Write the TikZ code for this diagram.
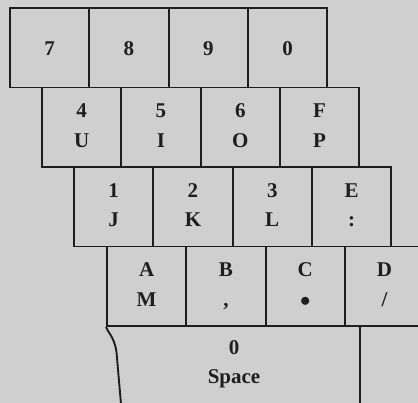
\documentclass[tikz,border=0pt]{standalone}
\usepackage{fontspec}
\setmainfont{Liberation Serif}
\usepackage{tikz}
\definecolor{paper}{HTML}{CFCFCF}
\definecolor{ink}{HTML}{1E1E1E}
\newcommand\kstrut{\rule[-3pt]{0pt}{21pt}}

\begin{document}
\begin{tikzpicture}[x=1pt,y=-1pt,
  key/.style={draw=ink,line width=1.9pt,minimum width=79.3pt,minimum height=79.5pt,
              inner sep=0pt,align=center,text=ink,
              execute at begin node=\kstrut,execute at end node=\kstrut,
              font=\fontsize{21}{29.5}\selectfont\bfseries},
  edge/.style={ink,line width=1.9pt}]
  \fill[paper](0,0) rectangle (418,403);
  \useasboundingbox (0,0) rectangle (418,403);
  \clip (0,0) rectangle (418,403);
  % top row
  \node[key](n7) at (49.65,47.75) {7};
  \node[key](n8) at (128.95,47.75){8};
  \node[key](n9) at (208.25,47.75){9};
  \node[key](n0) at (287.55,47.75){0};
  % second row
  \node[key](u) at (81.65,127.25) {4\\U};
  \node[key](i) at (160.95,127.25){5\\I};
  \node[key](o) at (240.25,127.25){6\\O};
  \node[key](p) at (319.55,127.25){F\\P};
  % third row
  \node[key](j) at (113.65,206.75){1\\J};
  \node[key](k) at (192.95,206.75){2\\K};
  \node[key](l) at (272.25,206.75){3\\L};
  \node[key](colon) at (351.55,206.75){E\\:};
  % fourth row
  \node[key](m) at (146.65,286.25) {A\\M};
  \node[key](comma) at (225.95,286.25){B\\,};
  \node[key](dot) at (305.25,286.25){C\\$\bullet$};
  \node[key](slash) at (384.55,286.25){D\\/};
  % space bar
  \node[key,draw=none](space) at (234,364.5){0\\Space};
  \draw[edge](m.south west) .. controls (108,333) and (116,338) .. (117,358) -- (121,404);
  \draw[edge](360,325.5) -- (360,404);
\end{tikzpicture}
\end{document}
